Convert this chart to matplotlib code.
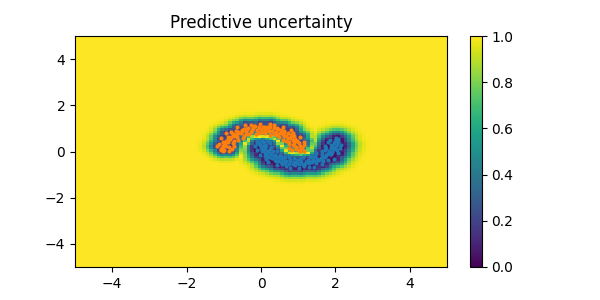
import numpy as np
import matplotlib
matplotlib.use("Agg")
import matplotlib.pyplot as plt

# Upper moon (orange) sample points
moon0_x = [1.02, 0.95, 1.06, 0.93, 1.05, 0.90, 1.01, 0.88, 0.97, 0.85, 0.92, 0.78, 0.86, 0.72, 0.80,
           0.66, 0.72, 0.58, 0.63, 0.50, 0.55, 0.40, 0.45, 0.30, 0.36, 0.20, 0.25, 0.10, 0.15, 0.00,
           0.05, -0.10, -0.06, -0.20, -0.25, -0.22, -0.35, -0.40, -0.37, -0.50, -0.55, -0.50, -0.63,
           -0.68, -0.62, -0.75, -0.80, -0.73, -0.86, -0.88, -0.82, -0.94, -0.96, -0.90, -1.00, -1.02,
           -0.95, -1.05, -1.00, -1.08, -1.03,
           1.15, 0.82, 1.11, 0.75, 1.15, 0.86, 1.16, 0.74, 0.98, 0.75, 1.04, 0.68, 0.89, 0.58, 0.86,
           0.62, 0.81, 0.49, 0.61, 0.44, 0.58, 0.35, 0.43, 0.25, 0.34, 0.21, 0.23, 0.10, 0.08, 0.02,
           -0.03, -0.06, -0.15, -0.14, -0.28, -0.26, -0.42, -0.31, -0.47, -0.41, -0.64, -0.46, -0.68,
           -0.49, -0.81, -0.65, -0.95, -0.63, -0.89, -0.73, -1.07, -0.74, -1.03, -0.72, -1.13, -0.87,
           -1.18, -0.79, -1.08, -0.85]
moon0_y = [0.05, 0.12, 0.02, 0.20, 0.25, 0.30, 0.36, 0.40, 0.45, 0.50, 0.55, 0.58, 0.65, 0.60, 0.72,
           0.68, 0.80, 0.74, 0.86, 0.80, 0.93, 0.85, 0.98, 0.90, 1.01, 0.92, 1.05, 0.95, 1.06, 0.96,
           1.08, 0.94, 1.07, 1.10, 0.93, 1.02, 1.00, 0.88, 0.97, 0.93, 0.82, 0.88, 0.85,
           0.72, 0.78, 0.75, 0.62, 0.66, 0.60, 0.50, 0.54, 0.45, 0.36, 0.40, 0.30, 0.22,
           0.25, 0.15, 0.08, 0.10, 0.02,
           0.03, 0.06, 0.15, 0.14, 0.28, 0.26, 0.40, 0.31, 0.47, 0.41, 0.64, 0.46, 0.68, 0.49, 0.81,
           0.65, 0.95, 0.63, 0.89, 0.73, 1.07, 0.74, 1.03, 0.72, 1.13, 0.87, 1.20, 0.79, 1.08, 0.85,
           1.20, 0.82, 1.11, 0.75, 1.15, 0.86, 1.16, 0.74, 0.98, 0.75, 1.04, 0.68, 0.89,
           0.58, 0.86, 0.62, 0.81, 0.49, 0.61, 0.44, 0.58, 0.35, 0.43, 0.25, 0.34, 0.21,
           0.23, 0.10, 0.08, 0.02]

# Lower moon (blue) sample points
moon1_x = [0.03, -0.05, 0.08, -0.02, 0.06, 0.10, 0.00, 0.12, 0.05, 0.16, 0.10, 0.22, 0.15, 0.28, 0.22,
           0.35, 0.30, 0.42, 0.38, 0.50, 0.46, 0.60, 0.55, 0.68, 0.65, 0.78, 0.75, 0.88, 0.85, 0.98,
           1.02, 1.08, 1.12, 1.20, 1.18, 1.30, 1.28, 1.40, 1.38, 1.50, 1.47, 1.60, 1.56, 1.68, 1.64,
           1.76, 1.72, 1.84, 1.78, 1.90, 1.84, 1.95, 1.88, 2.00, 1.92, 2.04, 1.96, 2.06, 1.98, 2.08, 2.02,
           -0.12, 0.18, -0.11, 0.25, -0.15, 0.14, -0.12, 0.26, 0.02, 0.25, -0.04, 0.32, 0.11, 0.42, 0.14,
           0.38, 0.19, 0.51, 0.39, 0.56, 0.42, 0.65, 0.57, 0.75, 0.66, 0.79, 0.77, 0.90, 0.92, 0.98,
           1.03, 1.06, 1.15, 1.14, 1.28, 1.26, 1.42, 1.31, 1.47, 1.41, 1.64, 1.46, 1.68, 1.49, 1.81,
           1.65, 1.95, 1.63, 1.89, 1.73, 2.07, 1.74, 2.03, 1.72, 2.13, 1.87, 2.15, 1.79, 2.08, 1.85]
moon1_y = [0.45, 0.38, 0.42, 0.30, 0.22, 0.28, 0.15, 0.10, 0.05, 0.02, -0.06, -0.02, -0.13, -0.10, -0.22,
           -0.18, -0.30, -0.25, -0.36, -0.30, -0.42, -0.36, -0.46, -0.40, -0.50, -0.43, -0.54, -0.46, -0.55, -0.45,
           -0.56, -0.44, -0.58, -0.45, -0.52, -0.40, -0.50, -0.38, -0.46, -0.32, -0.42, -0.28, -0.36, -0.22, -0.30,
           -0.15, -0.22, -0.08, -0.12, 0.00, 0.04, 0.10, 0.15, 0.18, 0.25, 0.30, 0.35, 0.40, 0.45, 0.52, 0.58,
           0.45, 0.44, 0.35, 0.36, 0.22, 0.24, 0.08, 0.19, 0.03, 0.09, -0.14, 0.04, -0.18, 0.01, -0.31,
           -0.15, -0.45, -0.13, -0.39, -0.23, -0.57, -0.24, -0.53, -0.22, -0.63, -0.37, -0.70, -0.29, -0.58, -0.35,
           -0.70, -0.32, -0.61, -0.25, -0.65, -0.36, -0.66, -0.24, -0.48, -0.25, -0.54, -0.18, -0.39, -0.08, -0.36,
           -0.12, -0.31, 0.01, -0.11, 0.06, -0.08, 0.15, 0.07, 0.25, 0.16, 0.29, 0.27, 0.40, 0.42, 0.48]

title = "Predictive uncertainty"
cbar_ticks = [0.0, 0.2, 0.4, 0.6, 0.8, 1.0]

# Evaluation grid (cell centres)
gx = np.arange(-4.95, 5.0, 0.1)
gy = np.arange(-4.95, 5.0, 0.1)
GX, GY = np.meshgrid(gx, gy)

def min_dist(px, py):
    px = np.asarray(px)[:, None, None]
    py = np.asarray(py)[:, None, None]
    return np.sqrt((GX[None] - px) ** 2 + (GY[None] - py) ** 2).min(axis=0)

d0 = min_dist(moon0_x, moon0_y)
d1 = min_dist(moon1_x, moon1_y)
k0 = 0.87 * np.exp(-(d0 / 0.26) ** 2)
k1 = np.exp(-(d1 / 0.33) ** 2)
unc = np.clip(1 - np.abs(k0 - k1), 0, 1)

fig, ax = plt.subplots(figsize=(6, 3), dpi=100)
im = ax.imshow(unc, origin="lower", extent=[-5, 5, -5, 5], aspect="auto",
               cmap="viridis", vmin=0, vmax=1, interpolation="nearest")
ax.scatter(moon0_x, moon0_y, s=4, color="C1")
ax.scatter(moon1_x, moon1_y, s=4, color="C0")
ax.set_xlim(-5, 5)
ax.set_ylim(-5, 5)
ax.set_xticks([-4, -2, 0, 2, 4])
ax.set_yticks([-4, -2, 0, 2, 4])
ax.set_title(title)
cb = fig.colorbar(im, ax=ax, ticks=cbar_ticks)
fig.savefig("out.png", dpi=100)
